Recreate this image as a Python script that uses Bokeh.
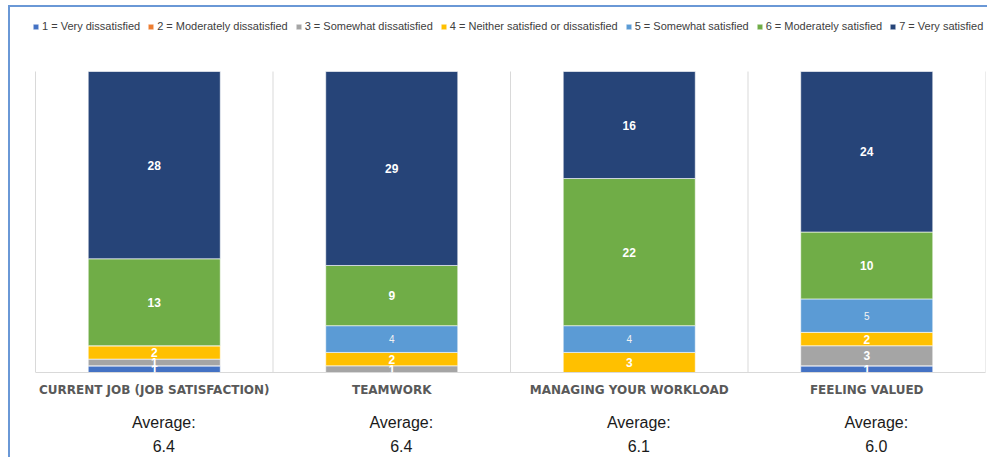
from bokeh.plotting import figure
from bokeh.models import (ColumnDataSource, Range1d, LinearAxis,
                          FixedTicker, LabelSet, Legend, LegendItem)
from bokeh.core.properties import value
from bokeh.embed import file_html
from bokeh.resources import INLINE

categories = ["CURRENT JOB (JOB SATISFACTION)", "TEAMWORK",
              "MANAGING YOUR WORKLOAD", "FEELING VALUED"]
levels = ["r1", "r2", "r3", "r4", "r5", "r6", "r7"]
level_labels = ["1 = Very dissatisfied", "2 = Moderately dissatisfied",
                "3 = Somewhat dissatisfied", "4 = Neither satisfied or dissatisfied",
                "5 = Somewhat satisfied", "6 = Moderately satisfied",
                "7 = Very satisfied"]
colors = ["#4472C4", "#ED7D31", "#A5A5A5", "#FFC000", "#5B9BD5", "#70AD47", "#264478"]
r1 = [1, 0, 0, 1]
r2 = [0, 0, 0, 0]
r3 = [1, 1, 0, 3]
r4 = [2, 2, 3, 2]
r5 = [0, 4, 4, 5]
r6 = [13, 9, 22, 10]
r7 = [28, 29, 16, 24]
averages = ["6.4", "6.4", "6.1", "6.0"]

series = [r1, r2, r3, r4, r5, r6, r7]
n = len(categories)
idx = list(range(n))
total = max(sum(s[i] for s in series) for i in idx)

# layout (pixels): frame spans the canvas top; bars occupy the lower 301 px of it
W, H = 979, 452
left_pad, right_pad, bottom_pad = 20, 4, 87
frame_h = H - bottom_pad
bars_h = 301
cat_px = (W - right_pad - left_pad - 5) / n

p = figure(x_range=Range1d(-0.5 - 5 / cat_px, n - 0.5),
           y_range=Range1d(0, total * frame_h / bars_h),
           width=W, height=H, output_backend="svg", toolbar_location=None,
           min_border_left=left_pad, min_border_right=right_pad, min_border_top=0,
           min_border_bottom=bottom_pad, x_axis_location=None, y_axis_location=None)
p.margin = (5, 0, 0, 8)
p.styles = {"border-left": "2px solid #6A98D6", "border-top": "2px solid #6A98D6"}
p.outline_line_color = None
p.xgrid.grid_line_color = None
p.ygrid.grid_line_color = None

bounds = [b - 0.5 for b in range(n + 1)]
p.segment(x0=bounds, y0=[0] * len(bounds), x1=bounds, y1=[total] * len(bounds),
          line_color="#D9D9D9", line_width=1)

data = dict(x=idx)
for name, s in zip(levels, series):
    data[name] = s
source = ColumnDataSource(data)
renderers = p.vbar_stack(levels, x="x", width=0.556, fill_color=colors,
                         line_color="white", line_width=0.6, source=source)

# segment labels
bold = dict(x=[], y=[], text=[])
light = dict(x=[], y=[], text=[])
for i in idx:
    bottom = 0
    for j, s in enumerate(series):
        v = s[i]
        if v > 0:
            d = light if j == 4 else bold
            d["x"].append(i)
            d["y"].append(bottom + v / 2)
            d["text"].append(str(v))
        bottom += v

p.add_layout(LabelSet(x="x", y="y", text="text", source=ColumnDataSource(bold),
                      text_align="center", text_baseline="middle", text_color="white",
                      text_font=value("Liberation Sans"), text_font_size="12px",
                      text_font_style="bold"))
p.add_layout(LabelSet(x="x", y="y", text="text", source=ColumnDataSource(light),
                      text_align="center", text_baseline="middle", text_color="#F2F2F2",
                      text_font=value("Liberation Sans"), text_font_size="10px"))

cat_axis = LinearAxis(ticker=FixedTicker(ticks=idx), bounds=(-0.5, n - 0.5),
                      major_label_overrides={i: c for i, c in zip(idx, categories)},
                      axis_line_color="#D9D9D9", major_tick_line_color=None,
                      minor_tick_line_color=None, major_label_standoff=4,
                      major_label_text_font="DejaVu Sans",
                      major_label_text_font_style="bold",
                      major_label_text_font_size="12px",
                      major_label_text_color="#595959")
p.add_layout(cat_axis, "below")

p.extra_x_ranges = {"avg": Range1d(p.x_range.start - 0.04, p.x_range.end - 0.04)}
for labels, standoff in ((["Average:"] * n, 8), (averages, 0)):
    a = LinearAxis(x_range_name="avg", ticker=FixedTicker(ticks=idx),
                   major_label_overrides={t: lab for t, lab in zip(idx, labels)},
                   axis_line_color=None, major_tick_line_color=None,
                   minor_tick_line_color=None, major_label_standoff=standoff,
                   major_label_text_font="Liberation Sans",
                   major_label_text_font_size="16px",
                   major_label_text_color="#1A1A1A")
    p.add_layout(a, "below")

items = [LegendItem(label=lab, renderers=[r]) for lab, r in zip(level_labels, renderers)]
legend = Legend(items=items, orientation="horizontal", location=(2, frame_h - 25),
                glyph_width=7, glyph_height=7, label_standoff=3, spacing=7,
                padding=0, margin=0, label_height=10,
                label_text_font="Liberation Sans", label_text_font_size="11px",
                label_text_color="#404040", border_line_color=None,
                background_fill_alpha=0)
p.add_layout(legend)

open("out.html", "w").write(file_html(p, INLINE))
